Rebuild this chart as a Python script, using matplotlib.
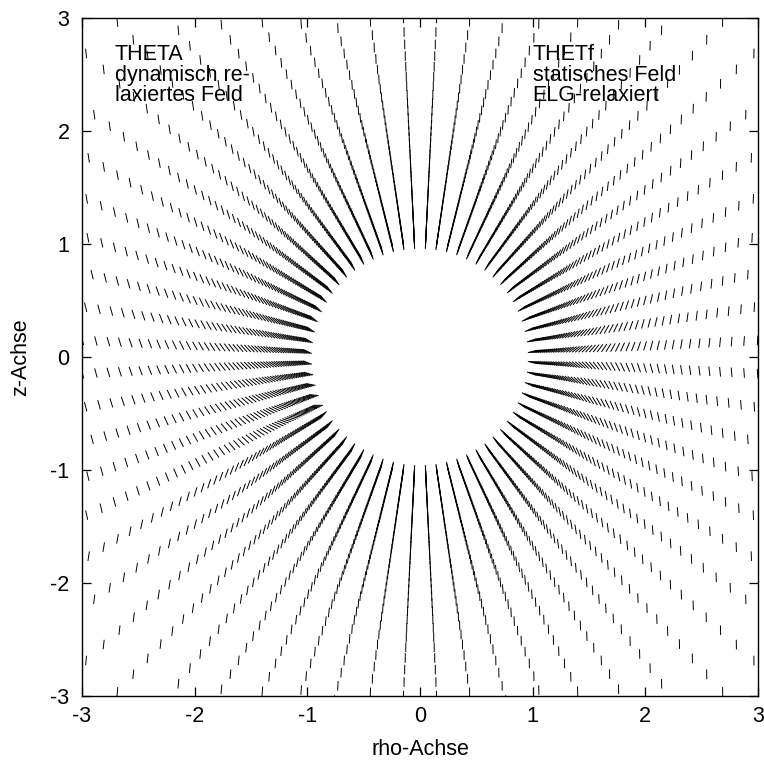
import numpy as np
import matplotlib
matplotlib.use("Agg")
import matplotlib.pyplot as plt
from matplotlib.collections import LineCollection

plt.rcParams["font.family"] = ["Liberation Sans", "DejaVu Sans"]
plt.rcParams["axes.unicode_minus"] = False

# ray directions: polar angle from the +z axis (deg), cell midpoints, 32 per half plane
ray_theta_deg = (np.arange(32) + 0.5) * 180.0 / 32
# radial nodes, evenly spaced in 1/r (72 steps from r=1 to infinity)
inv_radius = 1.0 - np.arange(0, 58) / 72.0
radii = 1.0 / inv_radius

# the two fields: left half THETA, right half THETf
field_names = ["THETA", "THETf"]
field_side = [-1, 1]
radial_coef = [2.3, 5.0]
radial_power = [2, 4]
flip_theta_deg = [118.0, 90.0]   # polar angle where the far field turns over
seg_len = 0.085

tick_vals = [-3, -2, -1, 0, 1, 2, 3]

left_text = "THETA\ndynamisch re-\nlaxiertes Feld"
right_text = "THETf\nstatisches Feld\nELG-relaxiert"

FS = 15.5


def field_segments(side, coef, power, flip_deg):
    th = np.radians(ray_theta_deg)[:, None]
    r = radii[None, :]
    x = side * r * np.sin(th)
    z = r * np.cos(th)
    rx = side * np.sin(th) * np.ones_like(r)
    rz = np.cos(th) * np.ones_like(r)
    a = coef / r ** power
    v = np.where(ray_theta_deg[:, None] < flip_deg, 1.0, -1.0) * np.ones_like(r)
    dx = a * rx
    dz = a * rz + v
    n = np.hypot(dx, dz)
    ux, uz = dx / n, dz / n
    h = seg_len / 2
    segs = np.stack(
        [np.stack([x - h * ux, z - h * uz], axis=-1),
         np.stack([x + h * ux, z + h * uz], axis=-1)],
        axis=-2,
    ).reshape(-1, 2, 2)
    keep = (np.abs(x) < 3.15).ravel() & (np.abs(z) < 3.15).ravel()
    return segs[keep]


fig = plt.figure(figsize=(7.64, 7.60), dpi=100)
ax = fig.add_axes([82 / 764, 64 / 760, 676 / 764, 678 / 760])

for i in range(len(field_names)):
    segs = field_segments(field_side[i], radial_coef[i], radial_power[i],
                          flip_theta_deg[i])
    ax.add_collection(LineCollection(segs, colors="black", linewidths=0.7))

ax.set_xlim(-3, 3)
ax.set_ylim(-3, 3)
ax.set_xticks(tick_vals)
ax.set_yticks(tick_vals)
ax.set_xticklabels([str(t) for t in tick_vals])
ax.set_yticklabels([str(t) for t in tick_vals])
ax.tick_params(direction="in", top=True, right=True, length=6.5, width=0.9,
               labelsize=FS)
ax.tick_params(axis="x", pad=7)
ax.tick_params(axis="y", pad=9)
for spine in ax.spines.values():
    spine.set_linewidth(1.0)

ax.set_xlabel("rho-Achse", fontsize=FS, labelpad=9)
ax.set_ylabel("z-Achse", fontsize=FS, labelpad=14)

ax.text(-2.71, 2.77, left_text, fontsize=FS, va="top", ha="left",
        linespacing=0.98)
ax.text(1.0, 2.77, right_text, fontsize=FS, va="top", ha="left",
        linespacing=0.98)

fig.savefig("out.png", dpi=100)
